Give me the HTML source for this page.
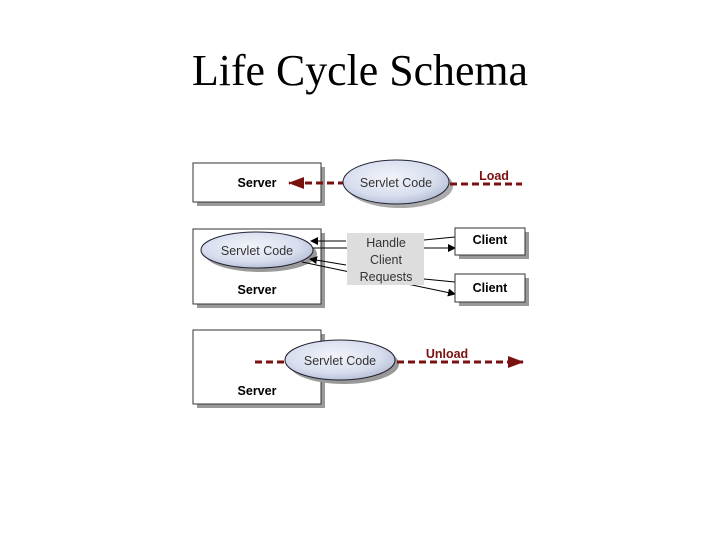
<!DOCTYPE html>
<html><head><meta charset="utf-8"><style>body{margin:0;background:#fff}svg{display:block}</style></head>
<body>
<svg width="720" height="540" viewBox="0 0 720 540" xmlns="http://www.w3.org/2000/svg">
<defs>
<radialGradient id="g" cx="0.45" cy="0.4" r="0.7">
<stop offset="0" stop-color="#f2f4fa"/><stop offset="0.6" stop-color="#d8deee"/><stop offset="1" stop-color="#a8b2cc"/>
</radialGradient>
<marker id="ab" markerWidth="8" markerHeight="8" refX="7" refY="4" orient="auto" markerUnits="userSpaceOnUse"><path d="M0,0 L8,4 L0,8 z" fill="#000"/></marker>
<marker id="ar" markerWidth="16" markerHeight="12" refX="15" refY="6" orient="auto" markerUnits="userSpaceOnUse"><path d="M0,0 L16,6 L0,12 z" fill="#7a1010"/></marker>
</defs>
<text x="360" y="85" text-anchor="middle" font-family="Liberation Serif, serif" font-size="44" textLength="336" lengthAdjust="spacingAndGlyphs">Life Cycle Schema</text>
<g font-family="Liberation Sans, sans-serif" font-size="12.5">
<rect x="197" y="167" width="128" height="39" fill="#999"/>
<rect x="193" y="163" width="128" height="39" fill="#fff" stroke="#333"/>
<text x="257" y="187" text-anchor="middle" font-weight="bold">Server</text>
<line x1="345" y1="183" x2="289" y2="183" stroke="#7a1010" stroke-width="3" stroke-dasharray="7,4" marker-end="url(#ar)"/>
<ellipse cx="400" cy="186" rx="53" ry="22" fill="#aaa"/>
<ellipse cx="396" cy="182" rx="53" ry="22" fill="url(#g)" stroke="#223" />
<text x="396" y="187" text-anchor="middle" fill="#333">Servlet Code</text>
<line x1="450" y1="184" x2="522" y2="184" stroke="#7a1010" stroke-width="3" stroke-dasharray="7,4"/>
<text x="494" y="180" text-anchor="middle" fill="#7a1010" font-weight="bold">Load</text>
<rect x="197" y="233" width="128" height="75" fill="#999"/>
<rect x="193" y="229" width="128" height="75" fill="#fff" stroke="#333"/>
<ellipse cx="261" cy="254" rx="56" ry="18" fill="#999"/>
<ellipse cx="257" cy="250" rx="56" ry="18" fill="url(#g)" stroke="#223"/>
<text x="257" y="255" text-anchor="middle" fill="#333">Servlet Code</text>
<text x="257" y="294" text-anchor="middle" font-weight="bold">Server</text>
<g stroke="#000" stroke-width="1" fill="none">
<line x1="455" y1="237" x2="424" y2="240"/>
<line x1="346" y1="241" x2="311" y2="241" marker-end="url(#ab)"/>
<line x1="313" y1="248" x2="455" y2="248" marker-end="url(#ab)"/>
<line x1="455" y1="282" x2="424" y2="279"/>
<line x1="346" y1="265" x2="310" y2="259" marker-end="url(#ab)"/>
<line x1="302" y1="262" x2="455" y2="294" marker-end="url(#ab)"/>
</g>
<rect x="347" y="233" width="77" height="52" fill="#ddd"/>
<text x="386" y="247" text-anchor="middle" fill="#333">Handle</text>
<text x="386" y="264" text-anchor="middle" fill="#333">Client</text>
<text x="386" y="281" text-anchor="middle" fill="#333">Requests</text>
<rect x="459" y="232" width="70" height="27" fill="#999"/>
<rect x="455" y="228" width="70" height="27" fill="#fff" stroke="#333"/>
<text x="490" y="244" text-anchor="middle" font-weight="bold">Client</text>
<rect x="459" y="278" width="70" height="28" fill="#999"/>
<rect x="455" y="274" width="70" height="28" fill="#fff" stroke="#333"/>
<text x="490" y="292" text-anchor="middle" font-weight="bold">Client</text>
<rect x="197" y="334" width="128" height="74" fill="#999"/>
<rect x="193" y="330" width="128" height="74" fill="#fff" stroke="#333"/>
<text x="257" y="395" text-anchor="middle" font-weight="bold">Server</text>
<line x1="255" y1="362" x2="290" y2="362" stroke="#7a1010" stroke-width="3" stroke-dasharray="7,4"/>
<ellipse cx="344" cy="364" rx="55" ry="20" fill="#999"/>
<ellipse cx="340" cy="360" rx="55" ry="20" fill="url(#g)" stroke="#223"/>
<text x="340" y="365" text-anchor="middle" fill="#333">Servlet Code</text>
<line x1="397" y1="362" x2="523" y2="362" stroke="#7a1010" stroke-width="3" stroke-dasharray="7,4" marker-end="url(#ar)"/>
<text x="447" y="358" text-anchor="middle" fill="#7a1010" font-weight="bold">Unload</text>
</g>
</svg>
</body></html>
